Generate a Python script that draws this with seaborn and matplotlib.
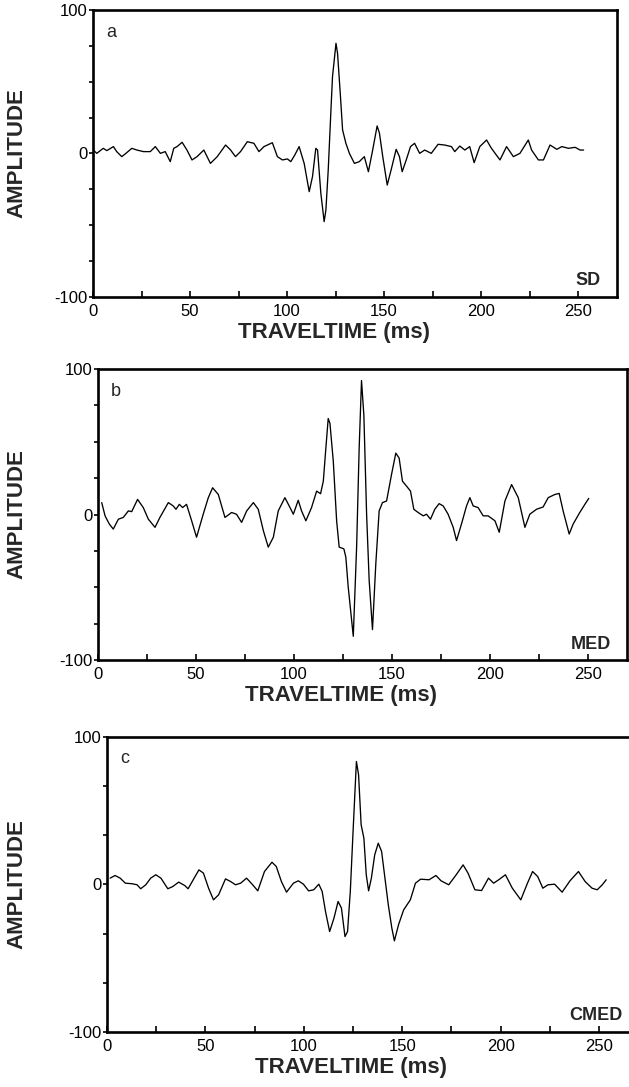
import matplotlib
matplotlib.use("Agg")
import matplotlib.pyplot as plt
import seaborn as sns
from matplotlib.ticker import MultipleLocator

sns.set_style("ticks")
plt.rcParams['font.family'] = ['Liberation Sans', 'DejaVu Sans']
plt.rcParams['axes.unicode_minus'] = False

# --- datos (tiempo en ms, amplitud) ---
# panel a: SD
tiempo_sd = [0.2, 1.9, 5.3, 7.1, 10.5, 12.2, 14.8, 16.6, 20.0, 22.6, 26.0, 29.5, 32.1, 34.7,
             37.2, 39.8, 41.6, 43.3, 45.9, 48.4, 51.0, 53.6, 57.1, 60.5, 64.0, 68.3, 70.9,
             73.4, 76.0, 79.5, 82.9, 85.5, 88.1, 92.4, 95.0, 97.6, 100.2, 101.9, 104.0, 106.2,
             108.8, 111.4, 113.1, 114.8, 115.7, 117.4, 119.1, 120.0, 121.2, 122.6, 123.4,
             125.2, 126.0, 127.4, 128.6, 130.3, 132.1, 134.7, 137.2, 139.8, 141.9, 144.1,
             146.4, 147.6, 149.3, 151.6, 153.6, 156.2, 157.9, 159.3, 161.4, 163.6, 165.7,
             168.3, 170.9, 174.3, 177.8, 181.2, 184.7, 186.4, 189.0, 191.6, 194.1, 196.4,
             199.3, 202.8, 205.3, 209.7, 213.1, 216.6, 220.0, 224.3, 226.0, 229.5, 232.1,
             235.5, 239.0, 241.6, 245.0, 248.4, 251.0, 252.8]
amp_sd = [2.4, 0.1, 3.6, 2.0, 4.8, 1.3, -2.2, -0.3, 3.6, 2.4, 1.3, 1.3, 4.8, 0.1,
          1.3, -5.7, 3.6, 4.8, 7.8, 2.4, -4.5, -2.2, 2.4, -6.9, -2.2, 5.9, 2.4,
          -2.2, 1.3, 8.2, 7.1, 1.3, 4.8, 7.5, -2.2, -4.5, -3.8, -5.7, -1.0, 4.8,
          -6.9, -26.6, -16.1, 3.6, 2.4, -27.8, -47.5, -39.4, -11.5, 30.3, 53.5,
          76.8, 69.8, 41.9, 16.4, 7.1, 0.1, -6.9, -5.7, -2.2, -12.7, 2.4,
          19.2, 14.1, -2.2, -22.0, -11.5, 2.9, -2.2, -12.7, -4.5, 4.8, 7.1,
          0.1, 2.4, 0.1, 6.4, 5.9, 4.8, 1.3, 5.2, 2.4, 4.8, -6.4,
          4.8, 9.4, 3.6, -4.5, 4.8, -2.2, 0.1, 9.4, 2.4, -4.5, -4.5,
          5.9, 2.9, 4.8, 3.6, 4.3, 2.4, 2.4]

# panel b: MED
tiempo_med = [1.9, 3.6, 5.8, 7.8, 10.4, 12.9, 15.5, 17.2, 20.2, 23.1, 25.7, 29.1, 31.6, 35.9,
              38.4, 39.8, 41.5, 43.2, 45.2, 47.8, 50.3, 53.7, 56.3, 58.5, 61.4, 64.8, 68.2,
              70.7, 73.3, 75.9, 79.3, 81.8, 84.4, 86.9, 89.5, 92.0, 95.4, 98.0, 99.7, 102.2,
              103.9, 106.1, 109.0, 111.6, 113.6, 115.0, 116.3, 117.5, 118.4, 120.1, 121.8,
              123.1, 125.5, 126.5, 127.7, 130.3, 132.0, 133.3, 134.5, 135.7, 137.1, 138.4,
              140.1, 141.8, 143.5, 145.2, 147.3, 149.8, 152.0, 153.7, 155.4, 157.5, 159.5,
              161.2, 163.4, 166.0, 167.7, 169.7, 171.9, 174.1, 176.2, 178.7, 181.3, 183.0,
              185.5, 188.1, 189.8, 191.5, 194.0, 196.6, 199.1, 202.6, 204.8, 207.7, 211.1,
              214.5, 217.9, 220.4, 223.8, 227.2, 229.8, 233.2, 235.4, 237.4, 240.5, 242.5,
              245.9, 248.5, 250.5]
amp_med = [8.2, -0.9, -6.6, -10.0, -3.2, -2.0, 2.5, 2.0, 10.4, 4.8, -3.2, -8.8, -2.0, 8.2,
           5.9, 3.6, 7.0, 4.8, 7.0, -4.3, -15.6, 0.2, 11.6, 18.4, 13.8, -2.0, 1.4,
           0.2, -5.4, 2.5, 8.2, 3.6, -11.1, -22.4, -15.6, 2.5, 11.6, 4.8, 0.2, 9.8,
           2.5, -4.3, 4.8, 16.1, 14.3, 22.9, 45.6, 66.0, 62.6, 36.5, -4.3,
           -22.4, -23.6, -29.3, -49.7, -83.7, -22.4, 45.6, 92.1, 68.3, 0.2, -45.1,
           -79.1, -33.8, 2.5, 8.2, 9.3, 27.4, 42.2, 38.8, 22.9, 19.5, 16.1,
           3.6, 1.4, -0.9, 0.2, -3.2, 3.6, 7.5, 5.9, 0.2, -8.8, -17.9,
           -6.6, 5.9, 11.6, 5.9, 4.8, -0.9, -0.9, -4.3, -12.2, 9.3, 20.6,
           11.6, -8.8, 0.2, 3.6, 5.2, 11.6, 13.8, 14.5, 2.5, -13.4, -6.6,
           1.4, 7.0, 11.1]

# panel c: CMED
tiempo_cmed = [1.6, 4.1, 6.7, 9.3, 12.8, 15.3, 17.1, 19.7, 22.2, 24.8, 27.4, 30.9, 33.4, 36.4,
               39.5, 41.2, 43.8, 46.7, 49.0, 51.6, 54.1, 56.7, 60.2, 62.8, 65.3, 67.9, 70.9,
               74.0, 76.6, 80.0, 83.8, 86.0, 88.6, 91.2, 94.7, 97.2, 99.8, 102.4, 105.0, 107.6,
               109.3, 111.0, 113.1, 115.3, 117.4, 119.1, 120.9, 122.2, 123.6, 125.0, 126.7,
               127.8, 129.1, 130.5, 131.7, 132.9, 134.3, 136.0, 137.8, 139.5, 141.2, 142.9,
               144.7, 146.0, 148.1, 150.7, 154.1, 156.7, 159.3, 163.6, 167.1, 169.7, 173.6,
               177.4, 180.9, 183.4, 186.9, 190.3, 193.8, 196.4, 199.0, 202.4, 205.9, 210.2,
               213.6, 216.2, 218.8, 221.4, 224.0, 227.4, 231.2, 235.2, 239.5, 242.9, 246.4,
               249.0, 251.6, 253.6]
amp_cmed = [4.3, 6.1, 4.3, 0.9, 0.5, -0.2, -2.9, -0.2, 4.3, 6.6, 4.3, -2.9, -1.4, 1.6,
            -0.7, -2.9, 3.2, 9.9, 7.7, -2.5, -10.4, -7.0, 3.8, 2.0, -0.2, 0.9, 4.3,
            -0.2, -4.3, 8.8, 15.1, 12.2, 2.0, -5.2, 0.9, 2.5, 0.2, -4.3, -3.6, 0.2,
            -4.7, -18.3, -31.9, -22.8, -11.5, -16.0, -35.3, -31.9, -4.7, 35.9, 83.4,
            74.4, 40.5, 31.4, 6.6, -4.3, 4.3, 20.1, 28.0, 22.4, 4.3, -13.8,
            -29.6, -38.2, -27.3, -17.2, -10.4, 0.9, 3.6, 3.2, 6.1, 2.5, -0.2,
            6.6, 13.3, 7.7, -3.6, -4.1, 4.3, 0.9, 3.2, 6.6, -2.5, -10.4,
            0.9, 8.8, 5.4, -2.5, -0.2, 0.2, -5.2, 2.5, 8.8, 2.0, -2.5,
            -3.6, -0.2, 3.2]

# (letra, metodo, tiempo, amplitud, posicion del eje en la figura, paso de marcas en y)
paneles = [
    ('a', 'SD', tiempo_sd, amp_sd, [0.1479, 0.7268, 0.833, 0.264], 25),
    ('b', 'MED', tiempo_med, amp_med, [0.1558, 0.3928, 0.841, 0.2677], 25),
    ('c', 'CMED', tiempo_cmed, amp_cmed, [0.1701, 0.0506, 0.845, 0.2714], 100 / 3),
]

fig = plt.figure(figsize=(6.29, 10.87), dpi=100)

for letra, metodo, t, a, pos, paso in paneles:
    ax = fig.add_axes(pos)
    sns.lineplot(x=t, y=a, ax=ax, color='black', linewidth=0.95,
                 estimator=None, sort=False)

    ax.set_xlim(0, 270)
    ax.set_ylim(-100, 100)
    ax.set_xticks([0, 50, 100, 150, 200, 250])
    ax.xaxis.set_minor_locator(MultipleLocator(25))
    ax.set_yticks([-100, 0, 100])
    ax.yaxis.set_minor_locator(MultipleLocator(paso))

    ax.tick_params(axis='x', which='both', direction='in', length=4, width=1.2,
                   pad=5, labelsize=12, colors='black')
    ax.tick_params(axis='y', which='both', direction='out', length=3, width=1.2,
                   pad=1, labelsize=12, colors='black')
    for s in ax.spines.values():
        s.set_visible(True)
        s.set_linewidth(1.9)
        s.set_color('black')

    alto_px = pos[3] * 1087
    ancho_px = pos[2] * 629
    izq_px = pos[0] * 629
    ax.set_xlabel('TRAVELTIME (ms)', fontsize=16, fontweight='bold')
    ax.xaxis.set_label_coords(0.46, -25 / alto_px)
    ax.set_ylabel('AMPLITUDE', fontsize=16, fontweight='bold')
    ax.yaxis.set_label_coords((27 - izq_px) / ancho_px, 0.5)

    ax.text(13 / ancho_px, 1 - 22 / alto_px, letra, transform=ax.transAxes,
            fontsize=13, ha='left', va='center')
    ax.text(1 - 16 / ancho_px, 16 / alto_px, metodo, transform=ax.transAxes,
            fontsize=13, fontweight='bold', ha='right', va='center')

fig.savefig('out.png', dpi=100, facecolor='white')
